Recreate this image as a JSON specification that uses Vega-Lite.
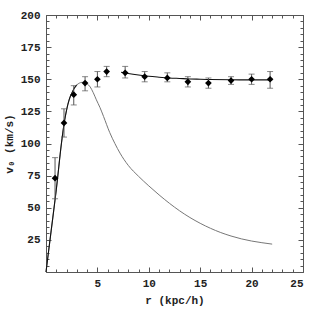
{
  "$schema": "https://vega.github.io/schema/vega-lite/v6.json",
  "width": 257,
  "height": 257,
  "autosize": "none",
  "padding": {"left": 46, "top": 15, "right": 10, "bottom": 41},
  "background": "white",
  "config": {
    "view": {"stroke": "#555", "strokeWidth": 1},
    "axis": {"labelFont": "Liberation Mono", "labelFontWeight": "bold", "labelFontSize": 11, "labelColor": "#222", "titleFont": "Liberation Mono", "titleFontWeight": "bold", "titleFontSize": 11, "titleColor": "#222", "domain": false, "grid": false, "tickColor": "#555"}
  },
  "datasets": {
    "disk": [
      {"r": 0, "v": 0}, {"r": 0.5, "v": 32}, {"r": 1, "v": 64}, {"r": 1.5, "v": 100}, {"r": 1.75, "v": 115}, {"r": 2, "v": 126}, {"r": 2.25, "v": 134}, {"r": 2.5, "v": 139}, {"r": 2.75, "v": 143}, {"r": 3, "v": 145.6}, {"r": 3.25, "v": 147}, {"r": 3.5, "v": 147.6}, {"r": 3.8, "v": 147.4}, {"r": 4, "v": 146.5}, {"r": 4.3, "v": 144}, {"r": 4.6, "v": 139.5}, {"r": 4.9, "v": 134}, {"r": 5.25, "v": 128}, {"r": 5.6, "v": 121}, {"r": 6.2, "v": 108.5}, {"r": 6.7, "v": 100}, {"r": 7.2, "v": 92.5}, {"r": 8, "v": 83}, {"r": 9, "v": 74.5}, {"r": 10, "v": 67}, {"r": 11, "v": 60}, {"r": 12, "v": 53.5}, {"r": 13, "v": 47.6}, {"r": 14, "v": 42.4}, {"r": 15, "v": 37.9}, {"r": 16, "v": 34.0}, {"r": 17, "v": 30.7}, {"r": 18, "v": 28.0}, {"r": 19, "v": 25.8}, {"r": 20, "v": 24.1}, {"r": 21, "v": 22.8}, {"r": 22, "v": 21.7}
    ],
    "total": [
      {"seg": "a", "r": 0, "v": 0}, {"seg": "a", "r": 0.5, "v": 32}, {"seg": "a", "r": 1, "v": 64}, {"seg": "a", "r": 1.5, "v": 100}, {"seg": "a", "r": 1.75, "v": 115}, {"seg": "a", "r": 2, "v": 126}, {"seg": "a", "r": 2.25, "v": 134}, {"seg": "a", "r": 2.5, "v": 139}, {"seg": "a", "r": 2.75, "v": 143}, {"seg": "a", "r": 3, "v": 145.6},
      {"seg": "b", "r": 7.3, "v": 155.5}, {"seg": "b", "r": 8, "v": 154.5}, {"seg": "b", "r": 9, "v": 153.3}, {"seg": "b", "r": 10, "v": 152.3}, {"seg": "b", "r": 11, "v": 151.6}, {"seg": "b", "r": 12, "v": 151}, {"seg": "b", "r": 13, "v": 150.6}, {"seg": "b", "r": 14, "v": 150.2}, {"seg": "b", "r": 15, "v": 150}, {"seg": "b", "r": 16, "v": 149.8}, {"seg": "b", "r": 18, "v": 149.6}, {"seg": "b", "r": 20, "v": 149.5}, {"seg": "b", "r": 22, "v": 149.5}
    ],
    "obs": [
      {"r": 0.88, "v": 73, "lo": 57, "hi": 89},
      {"r": 1.75, "v": 116, "lo": 105, "hi": 127},
      {"r": 2.7, "v": 138, "lo": 130, "hi": 145},
      {"r": 3.8, "v": 147, "lo": 141, "hi": 152},
      {"r": 5.0, "v": 150, "lo": 144, "hi": 156},
      {"r": 5.9, "v": 156, "lo": 152, "hi": 160},
      {"r": 7.7, "v": 155, "lo": 151, "hi": 160},
      {"r": 9.6, "v": 152, "lo": 148, "hi": 156},
      {"r": 11.8, "v": 151, "lo": 148, "hi": 155},
      {"r": 13.8, "v": 148, "lo": 144, "hi": 152},
      {"r": 15.8, "v": 147, "lo": 143, "hi": 151},
      {"r": 18.0, "v": 149, "lo": 146, "hi": 152},
      {"r": 20.0, "v": 150, "lo": 146, "hi": 154},
      {"r": 21.8, "v": 150, "lo": 143, "hi": 156}
    ]
  },
  "resolve": {"axis": {"x": "independent", "y": "independent"}},
  "layer": [
    {
      "data": {"name": "disk"},
      "mark": {"type": "line", "color": "#777", "strokeWidth": 1, "interpolate": "monotone"},
      "encoding": {
        "x": {"field": "r", "type": "quantitative", "scale": {"domain": [0, 25], "nice": false},
          "axis": {"orient": "bottom", "title": "r (kpc/h)", "titlePadding": 6,
            "values": [0,1,2,3,4,5,6,7,8,9,10,11,12,13,14,15,16,17,18,19,20,21,22,23,24,25],
            "labelExpr": "datum.value % 5 === 0 && datum.value > 0 ? datum.label : ''",
            "tickSize": {"condition": {"test": "datum.value % 5 === 0", "value": -5}, "value": -3},
            "labelPadding": 10}},
        "y": {"field": "v", "type": "quantitative", "scale": {"domain": [0, 200], "nice": false},
          "axis": {"orient": "left", "title": "v₀ (km/s)", "titlePadding": 6,
            "values": [0,5,10,15,20,25,30,35,40,45,50,55,60,65,70,75,80,85,90,95,100,105,110,115,120,125,130,135,140,145,150,155,160,165,170,175,180,185,190,195,200],
            "labelExpr": "datum.value % 25 === 0 && datum.value > 0 ? datum.label : ''",
            "tickSize": {"condition": {"test": "datum.value % 25 === 0", "value": -5}, "value": -3},
            "labelPadding": 11}}
      }
    },
    {
      "data": {"name": "total"},
      "mark": {"type": "line", "color": "#111", "strokeWidth": 1.1, "interpolate": "monotone"},
      "encoding": {
        "x": {"field": "r", "type": "quantitative", "scale": {"domain": [0, 25], "nice": false},
          "axis": {"orient": "top", "title": null, "labels": false,
            "values": [0,1,2,3,4,5,6,7,8,9,10,11,12,13,14,15,16,17,18,19,20,21,22,23,24,25],
            "tickSize": {"condition": {"test": "datum.value % 5 === 0", "value": -5}, "value": -3}}},
        "y": {"field": "v", "type": "quantitative", "scale": {"domain": [0, 200], "nice": false},
          "axis": {"orient": "right", "title": null, "labels": false,
            "values": [0,5,10,15,20,25,30,35,40,45,50,55,60,65,70,75,80,85,90,95,100,105,110,115,120,125,130,135,140,145,150,155,160,165,170,175,180,185,190,195,200],
            "tickSize": {"condition": {"test": "datum.value % 25 === 0", "value": -5}, "value": -3}}},
        "detail": {"field": "seg", "type": "nominal"}
      }
    },
    {
      "data": {"name": "obs"},
      "mark": {"type": "rule", "color": "#555", "strokeWidth": 1},
      "encoding": {
        "x": {"field": "r", "type": "quantitative", "axis": null},
        "y": {"field": "lo", "type": "quantitative", "axis": null},
        "y2": {"field": "hi"}
      }
    },
    {
      "data": {"name": "obs"},
      "mark": {"type": "tick", "orient": "horizontal", "color": "#555", "size": 6, "thickness": 1},
      "encoding": {
        "x": {"field": "r", "type": "quantitative", "axis": null},
        "y": {"field": "lo", "type": "quantitative", "axis": null}
      }
    },
    {
      "data": {"name": "obs"},
      "mark": {"type": "tick", "orient": "horizontal", "color": "#555", "size": 6, "thickness": 1},
      "encoding": {
        "x": {"field": "r", "type": "quantitative", "axis": null},
        "y": {"field": "hi", "type": "quantitative", "axis": null}
      }
    },
    {
      "data": {"name": "obs"},
      "mark": {"type": "point", "shape": "diamond", "filled": true, "color": "#000", "size": 45, "opacity": 1},
      "encoding": {
        "x": {"field": "r", "type": "quantitative", "axis": null},
        "y": {"field": "v", "type": "quantitative", "axis": null}
      }
    }
  ]
}
